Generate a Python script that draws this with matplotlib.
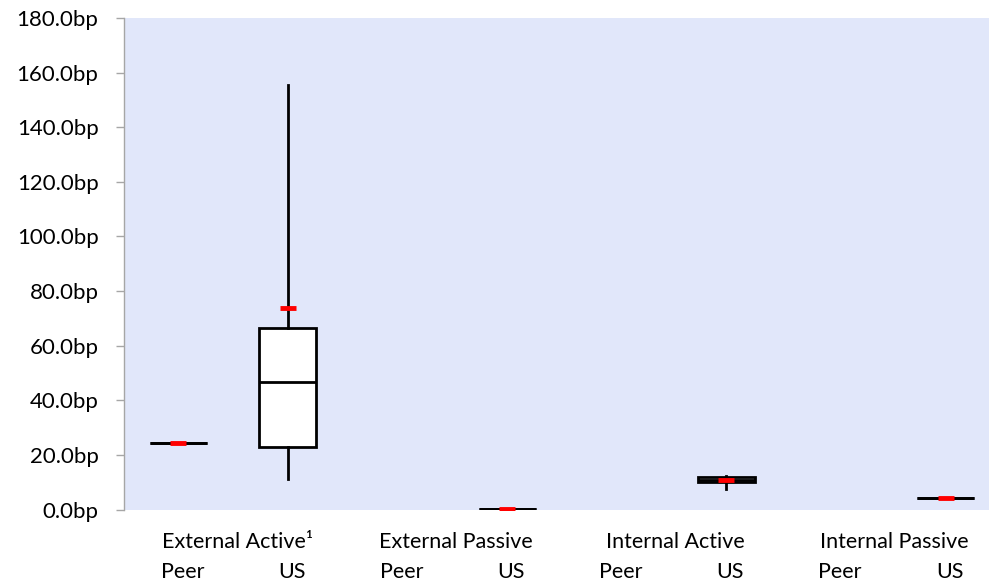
import matplotlib
matplotlib.use("Agg")
import matplotlib.pyplot as plt
from matplotlib.ticker import FuncFormatter

plt.rcParams['font.family'] = ['Lato', 'DejaVu Sans']

# ---- data (bp) ----
groups = ["External Active\u00b9", "External Passive", "Internal Active", "Internal Passive"]
subcats = ["Peer", "US"]
# order: ExtActive Peer, ExtActive US, ExtPassive Peer, ExtPassive US, IntActive Peer, IntActive US, IntPassive Peer, IntPassive US
has_data = [True, True, False, True, False, True, False, True]
whis_lo = [24.2, 11.1, None, 0.2, None, 7.5, None, 4.3]
q1      = [24.2, 23.0, None, 0.2, None, 10.0, None, 4.3]
median  = [24.2, 46.6, None, 0.2, None, 10.9, None, 4.3]
q3      = [24.2, 66.6, None, 0.2, None, 11.9, None, 4.3]
whis_hi = [24.2, 155.5, None, 0.2, None, 12.3, None, 4.3]
means   = [24.2, 73.7, None, 0.2, None, 10.7, None, 4.3]
yticks = [0, 20, 40, 60, 80, 100, 120, 140, 160, 180]

W, H = 989, 582
fig = plt.figure(figsize=(W / 100, H / 100), dpi=100)
ax_left, ax_right = 123.5, 989
ax_top, ax_bot = 18, 509.5
ax = fig.add_axes([ax_left / W, (H - ax_bot) / H, (ax_right - ax_left) / W, (ax_bot - ax_top) / H])
ax.set_facecolor('#E1E7FA')

spacing = 109.6
ax.set_xlim(-0.5, -0.5 + (ax_right - ax_left) / spacing)
ax.set_ylim(0, 180)

stats, positions = [], []
for i in range(len(has_data)):
    if not has_data[i]:
        continue
    stats.append(dict(whislo=whis_lo[i], q1=q1[i], med=median[i], q3=q3[i],
                      whishi=whis_hi[i], mean=means[i], fliers=[]))
    positions.append(i)

lw = 2.0
ax.bxp(stats, positions=positions, widths=0.52, showmeans=True, showcaps=False,
       showfliers=False, patch_artist=True,
       boxprops=dict(facecolor='white', edgecolor='black', linewidth=lw),
       medianprops=dict(color='black', linewidth=lw),
       whiskerprops=dict(color='black', linewidth=lw),
       meanprops=dict(marker='_', markeredgecolor='#FF0000', markersize=11.5,
                      markeredgewidth=3.5),
       manage_ticks=False, zorder=3)

ax.set_yticks(yticks)
ax.yaxis.set_major_formatter(FuncFormatter(lambda v, p: f"{v:.1f}bp"))
ax.set_xticks([])
for s in ['top', 'right', 'bottom']:
    ax.spines[s].set_visible(False)
ax.spines['left'].set_color('#A6A6A6')
ax.spines['left'].set_linewidth(1.0)
ax.tick_params(axis='y', colors='#A6A6A6', length=6, width=1.0, pad=12,
               labelcolor='black', labelsize=16)

tr = ax.get_xaxis_transform()
off = 4 / spacing
for g, name in enumerate(groups):
    p0, p1 = 2 * g, 2 * g + 1
    ax.text((p0 + p1) / 2 + off, -0.0783, name, transform=tr, ha='center',
            va='baseline', fontsize=15.5, clip_on=False)
    for k, sub in enumerate(subcats):
        ax.text(2 * g + k + off, -0.140, sub, transform=tr, ha='center',
                va='baseline', fontsize=15.5, clip_on=False)

fig.savefig("out.png", dpi=100)
